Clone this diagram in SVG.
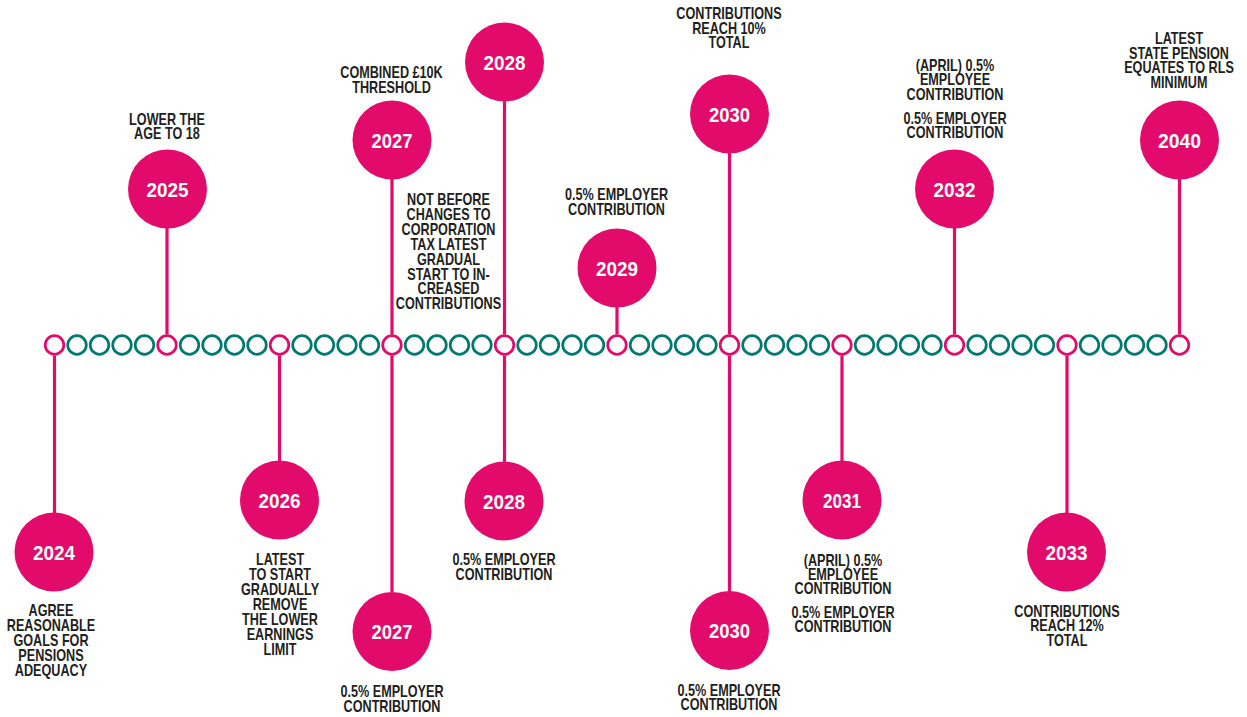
<svg xmlns="http://www.w3.org/2000/svg" width="1247" height="717" viewBox="0 0 1247 717">
<defs>
<style>
.stem{stroke:#E20A6A;stroke-width:3.2;fill:none}
.bead{fill:#fff;stroke:#00796F;stroke-width:2.7}
.bead.key{stroke:#E20A6A}
.disc{fill:#E20A6A}
.yr{font-family:"Liberation Sans",Arial,sans-serif;font-weight:bold;font-size:20px;fill:#fff;text-anchor:middle}
.lbl{font-family:"Liberation Sans",Arial,sans-serif;font-weight:bold;font-size:16px;fill:#231F20;text-anchor:middle}
</style>
</defs>
<rect width="1247" height="717" fill="#fff"/>

<g id="connectors">
<line class="stem" x1="54.5" y1="355.5" x2="54.5" y2="513"/>
<line class="stem" x1="167" y1="334.5" x2="167" y2="228"/>
<line class="stem" x1="279.5" y1="355.5" x2="279.5" y2="461"/>
<line class="stem" x1="392" y1="334.5" x2="392" y2="179"/>
<line class="stem" x1="392" y1="355.5" x2="392" y2="592"/>
<line class="stem" x1="504.5" y1="334.5" x2="504.5" y2="101"/>
<line class="stem" x1="504.5" y1="355.5" x2="504.5" y2="462"/>
<line class="stem" x1="617" y1="334.5" x2="617" y2="307"/>
<line class="stem" x1="729.5" y1="334.5" x2="729.5" y2="153"/>
<line class="stem" x1="729.5" y1="355.5" x2="729.5" y2="592"/>
<line class="stem" x1="842" y1="355.5" x2="842" y2="461"/>
<line class="stem" x1="954.5" y1="334.5" x2="954.5" y2="228"/>
<line class="stem" x1="1067" y1="355.5" x2="1067" y2="513"/>
<line class="stem" x1="1179.5" y1="334.5" x2="1179.5" y2="179"/>
</g>

<g id="timeline">
<circle class="bead key" cx="54.5" cy="345" r="9.3"/>
<circle class="bead" cx="77" cy="345" r="9.3"/>
<circle class="bead" cx="99.5" cy="345" r="9.3"/>
<circle class="bead" cx="122" cy="345" r="9.3"/>
<circle class="bead" cx="144.5" cy="345" r="9.3"/>
<circle class="bead key" cx="167" cy="345" r="9.3"/>
<circle class="bead" cx="189.5" cy="345" r="9.3"/>
<circle class="bead" cx="212" cy="345" r="9.3"/>
<circle class="bead" cx="234.5" cy="345" r="9.3"/>
<circle class="bead" cx="257" cy="345" r="9.3"/>
<circle class="bead key" cx="279.5" cy="345" r="9.3"/>
<circle class="bead" cx="302" cy="345" r="9.3"/>
<circle class="bead" cx="324.5" cy="345" r="9.3"/>
<circle class="bead" cx="347" cy="345" r="9.3"/>
<circle class="bead" cx="369.5" cy="345" r="9.3"/>
<circle class="bead key" cx="392" cy="345" r="9.3"/>
<circle class="bead" cx="414.5" cy="345" r="9.3"/>
<circle class="bead" cx="437" cy="345" r="9.3"/>
<circle class="bead" cx="459.5" cy="345" r="9.3"/>
<circle class="bead" cx="482" cy="345" r="9.3"/>
<circle class="bead key" cx="504.5" cy="345" r="9.3"/>
<circle class="bead" cx="527" cy="345" r="9.3"/>
<circle class="bead" cx="549.5" cy="345" r="9.3"/>
<circle class="bead" cx="572" cy="345" r="9.3"/>
<circle class="bead" cx="594.5" cy="345" r="9.3"/>
<circle class="bead key" cx="617" cy="345" r="9.3"/>
<circle class="bead" cx="639.5" cy="345" r="9.3"/>
<circle class="bead" cx="662" cy="345" r="9.3"/>
<circle class="bead" cx="684.5" cy="345" r="9.3"/>
<circle class="bead" cx="707" cy="345" r="9.3"/>
<circle class="bead key" cx="729.5" cy="345" r="9.3"/>
<circle class="bead" cx="752" cy="345" r="9.3"/>
<circle class="bead" cx="774.5" cy="345" r="9.3"/>
<circle class="bead" cx="797" cy="345" r="9.3"/>
<circle class="bead" cx="819.5" cy="345" r="9.3"/>
<circle class="bead key" cx="842" cy="345" r="9.3"/>
<circle class="bead" cx="864.5" cy="345" r="9.3"/>
<circle class="bead" cx="887" cy="345" r="9.3"/>
<circle class="bead" cx="909.5" cy="345" r="9.3"/>
<circle class="bead" cx="932" cy="345" r="9.3"/>
<circle class="bead key" cx="954.5" cy="345" r="9.3"/>
<circle class="bead" cx="977" cy="345" r="9.3"/>
<circle class="bead" cx="999.5" cy="345" r="9.3"/>
<circle class="bead" cx="1022" cy="345" r="9.3"/>
<circle class="bead" cx="1044.5" cy="345" r="9.3"/>
<circle class="bead key" cx="1067" cy="345" r="9.3"/>
<circle class="bead" cx="1089.5" cy="345" r="9.3"/>
<circle class="bead" cx="1112" cy="345" r="9.3"/>
<circle class="bead" cx="1134.5" cy="345" r="9.3"/>
<circle class="bead" cx="1157" cy="345" r="9.3"/>
<circle class="bead key" cx="1179.5" cy="345" r="9.3"/>
</g>

<g id="n2024">
<circle class="disc" cx="54" cy="552" r="39.5"/>
<text class="yr" x="54" y="559.5" textLength="42" lengthAdjust="spacingAndGlyphs">2024</text>
<g transform="translate(51 0) scale(0.79 1)"><text class="lbl"><tspan x="0" y="616">AGREE</tspan><tspan x="0" y="631">REASONABLE</tspan><tspan x="0" y="646">GOALS FOR</tspan><tspan x="0" y="661">PENSIONS</tspan><tspan x="0" y="676">ADEQUACY</tspan></text></g>
</g>

<g id="n2025">
<circle class="disc" cx="167.5" cy="189" r="39.5"/>
<text class="yr" x="167.5" y="196.5" textLength="42" lengthAdjust="spacingAndGlyphs">2025</text>
<g transform="translate(167 0) scale(0.79 1)"><text class="lbl"><tspan x="0" y="125.5">LOWER THE</tspan><tspan x="0" y="139.5">AGE TO 18</tspan></text></g>
</g>

<g id="n2026">
<circle class="disc" cx="279.5" cy="500" r="39.5"/>
<text class="yr" x="279.5" y="507.5" textLength="42" lengthAdjust="spacingAndGlyphs">2026</text>
<g transform="translate(280 0) scale(0.79 1)"><text class="lbl"><tspan x="0" y="565.5">LATEST</tspan><tspan x="0" y="580.5">TO START</tspan><tspan x="0" y="595">GRADUALLY</tspan><tspan x="0" y="610">REMOVE</tspan><tspan x="0" y="625">THE LOWER</tspan><tspan x="0" y="640">EARNINGS</tspan><tspan x="0" y="655">LIMIT</tspan></text></g>
</g>

<g id="n2027a">
<circle class="disc" cx="392" cy="140" r="39.5"/>
<text class="yr" x="392" y="147.5" textLength="41" lengthAdjust="spacingAndGlyphs">2027</text>
<g transform="translate(391.5 0) scale(0.79 1)"><text class="lbl"><tspan x="0" y="78.5">COMBINED £10K</tspan><tspan x="0" y="93">THRESHOLD</tspan></text></g>
</g>

<g id="n2027b">
<circle class="disc" cx="392" cy="631.5" r="39.5"/>
<text class="yr" x="392" y="639" textLength="41" lengthAdjust="spacingAndGlyphs">2027</text>
<g transform="translate(392 0) scale(0.79 1)"><text class="lbl"><tspan x="0" y="697">0.5% EMPLOYER</tspan><tspan x="0" y="712">CONTRIBUTION</tspan></text></g>
</g>

<g id="n2028a">
<circle class="disc" cx="504.5" cy="62" r="39.5"/>
<text class="yr" x="504.5" y="69.5" textLength="42" lengthAdjust="spacingAndGlyphs">2028</text>
<g transform="translate(448.5 0) scale(0.79 1)"><text class="lbl"><tspan x="0" y="205.5">NOT BEFORE</tspan><tspan x="0" y="220.5">CHANGES TO</tspan><tspan x="0" y="235.5">CORPORATION</tspan><tspan x="0" y="250.5">TAX LATEST</tspan><tspan x="0" y="265">GRADUAL</tspan><tspan x="0" y="280">START TO IN-</tspan><tspan x="0" y="294.5">CREASED</tspan><tspan x="0" y="309">CONTRIBUTIONS</tspan></text></g>
</g>

<g id="n2028b">
<circle class="disc" cx="504" cy="501" r="39.5"/>
<text class="yr" x="504" y="508.5" textLength="42" lengthAdjust="spacingAndGlyphs">2028</text>
<g transform="translate(504 0) scale(0.79 1)"><text class="lbl"><tspan x="0" y="565">0.5% EMPLOYER</tspan><tspan x="0" y="580.5">CONTRIBUTION</tspan></text></g>
</g>

<g id="n2029">
<circle class="disc" cx="617" cy="268" r="39.5"/>
<text class="yr" x="617" y="275.5" textLength="42" lengthAdjust="spacingAndGlyphs">2029</text>
<g transform="translate(616.5 0) scale(0.79 1)"><text class="lbl"><tspan x="0" y="200.5">0.5% EMPLOYER</tspan><tspan x="0" y="215">CONTRIBUTION</tspan></text></g>
</g>

<g id="n2030a">
<circle class="disc" cx="729.5" cy="114" r="39.5"/>
<text class="yr" x="729.5" y="121.5" textLength="41" lengthAdjust="spacingAndGlyphs">2030</text>
<g transform="translate(729 0) scale(0.79 1)"><text class="lbl"><tspan x="0" y="19.5">CONTRIBUTIONS</tspan><tspan x="0" y="34">REACH 10%</tspan><tspan x="0" y="48.5">TOTAL</tspan></text></g>
</g>

<g id="n2030b">
<circle class="disc" cx="729.5" cy="630.5" r="39.5"/>
<text class="yr" x="729.5" y="638" textLength="41" lengthAdjust="spacingAndGlyphs">2030</text>
<g transform="translate(729 0) scale(0.79 1)"><text class="lbl"><tspan x="0" y="696">0.5% EMPLOYER</tspan><tspan x="0" y="710.5">CONTRIBUTION</tspan></text></g>
</g>

<g id="n2031">
<circle class="disc" cx="842" cy="500" r="39.5"/>
<text class="yr" x="842" y="507.5" textLength="38" lengthAdjust="spacingAndGlyphs">2031</text>
<g transform="translate(843 0) scale(0.79 1)"><text class="lbl"><tspan x="0" y="566">(APRIL) 0.5%</tspan><tspan x="0" y="580">EMPLOYEE</tspan><tspan x="0" y="594.5">CONTRIBUTION</tspan><tspan x="0" y="618">0.5% EMPLOYER</tspan><tspan x="0" y="632.5">CONTRIBUTION</tspan></text></g>
</g>

<g id="n2032">
<circle class="disc" cx="954.5" cy="189" r="39.5"/>
<text class="yr" x="954.5" y="196.5" textLength="42" lengthAdjust="spacingAndGlyphs">2032</text>
<g transform="translate(955 0) scale(0.79 1)"><text class="lbl"><tspan x="0" y="71.5">(APRIL) 0.5%</tspan><tspan x="0" y="85.5">EMPLOYEE</tspan><tspan x="0" y="100.5">CONTRIBUTION</tspan><tspan x="0" y="124.5">0.5% EMPLOYER</tspan><tspan x="0" y="138.5">CONTRIBUTION</tspan></text></g>
</g>

<g id="n2033">
<circle class="disc" cx="1066.5" cy="552" r="39.5"/>
<text class="yr" x="1066.5" y="559.5" textLength="42" lengthAdjust="spacingAndGlyphs">2033</text>
<g transform="translate(1067 0) scale(0.79 1)"><text class="lbl"><tspan x="0" y="617.5">CONTRIBUTIONS</tspan><tspan x="0" y="631.5">REACH 12%</tspan><tspan x="0" y="646">TOTAL</tspan></text></g>
</g>

<g id="n2040">
<circle class="disc" cx="1179.5" cy="140" r="39.5"/>
<text class="yr" x="1179.5" y="147.5" textLength="43" lengthAdjust="spacingAndGlyphs">2040</text>
<g transform="translate(1179 0) scale(0.79 1)"><text class="lbl"><tspan x="0" y="44.5">LATEST</tspan><tspan x="0" y="59">STATE PENSION</tspan><tspan x="0" y="73.5">EQUATES TO RLS</tspan><tspan x="0" y="88">MINIMUM</tspan></text></g>
</g>
</svg>
